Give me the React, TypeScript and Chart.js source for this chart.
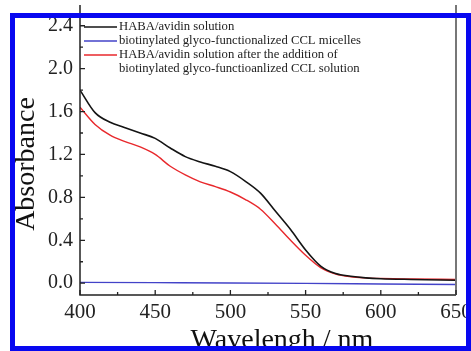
import React, { useEffect, useRef } from "react";
import { Chart, registerables } from "chart.js";

Chart.register(...registerables);

const wavelengths = [400, 410, 420, 430, 440, 450, 460, 470, 480, 490, 500, 510, 520, 530, 540, 550, 560, 570, 580, 590, 600, 620, 650];
const habaAvidin = [1.8, 1.59, 1.5, 1.45, 1.4, 1.35, 1.26, 1.18, 1.13, 1.09, 1.04, 0.95, 0.84, 0.67, 0.5, 0.31, 0.16, 0.09, 0.065, 0.05, 0.042, 0.035, 0.028];
const habaAfter = [1.64, 1.48, 1.38, 1.32, 1.27, 1.2, 1.09, 1.01, 0.945, 0.9, 0.85, 0.78, 0.69, 0.55, 0.4, 0.26, 0.145, 0.085, 0.06, 0.05, 0.045, 0.04, 0.035];
const micelleWavelengths = [400, 450, 500, 550, 600, 650];
const micelles = [0.008, 0.005, 0.002, -0.002, -0.007, -0.012];

const seriesLabels = [
  ["HABA/avidin solution"],
  ["biotinylated glyco-functionalized CCL micelles"],
  ["HABA/avidin solution after the addition of", "biotinylated glyco-functioanlized CCL solution"],
];
const seriesColors = ["#141414", "#4343c8", "#e8282c"];

const xMajorTicks = [400, 450, 500, 550, 600, 650];
const xMinorTicks = [425, 475, 525, 575, 625];
const yMajorTicks = [0, 0.4, 0.8, 1.2, 1.6, 2.0, 2.4];
const yMinorTicks = [0.2, 0.6, 1.0, 1.4, 1.8, 2.2];

const xTitle = "Wavelengh / nm";
const yTitle = "Absorbance";

const FONT = "'Liberation Serif', 'Times New Roman', serif";

const decor = {
  id: "decor",
  afterDraw(chart: any) {
    const { ctx, chartArea: a, scales } = chart;
    const xs = scales.x;
    const ys = scales.y;
    ctx.save();
    ctx.strokeStyle = "#222";
    ctx.lineWidth = 1.5;
    ctx.beginPath();
    ctx.moveTo(a.left, a.top - 10);
    ctx.lineTo(a.left, a.bottom);
    ctx.lineTo(a.right, a.bottom);
    ctx.stroke();
    ctx.strokeStyle = "#777";
    ctx.lineWidth = 2;
    ctx.beginPath();
    ctx.moveTo(a.right, a.top - 10);
    ctx.lineTo(a.right, a.bottom);
    ctx.stroke();
    ctx.strokeStyle = "#222";
    ctx.lineWidth = 1.3;
    ctx.beginPath();
    xMajorTicks.forEach((v) => {
      const px = xs.getPixelForValue(v);
      ctx.moveTo(px, a.bottom);
      ctx.lineTo(px, a.bottom - 5);
    });
    xMinorTicks.forEach((v) => {
      const px = xs.getPixelForValue(v);
      ctx.moveTo(px, a.bottom);
      ctx.lineTo(px, a.bottom - 3);
    });
    yMajorTicks.forEach((v) => {
      const py = ys.getPixelForValue(v);
      ctx.moveTo(a.left, py);
      ctx.lineTo(a.left + 5, py);
    });
    yMinorTicks.forEach((v) => {
      const py = ys.getPixelForValue(v);
      ctx.moveTo(a.left, py);
      ctx.lineTo(a.left + 3, py);
    });
    ctx.stroke();
    ctx.font = `12.7px ${FONT}`;
    ctx.textBaseline = "middle";
    ctx.textAlign = "left";
    let row = 0;
    seriesLabels.forEach((lines, i) => {
      const ly = a.top + 12 + row * 14;
      ctx.strokeStyle = seriesColors[i];
      ctx.lineWidth = 1.5;
      ctx.beginPath();
      ctx.moveTo(a.left + 4, ly);
      ctx.lineTo(a.left + 37, ly);
      ctx.stroke();
      ctx.fillStyle = "#222";
      lines.forEach((t) => {
        ctx.fillText(t, a.left + 39, a.top + 12 + row * 14);
        row++;
      });
    });
    ctx.fillStyle = "#111";
    ctx.font = `28px ${FONT}`;
    ctx.textAlign = "center";
    ctx.textBaseline = "alphabetic";
    ctx.fillText(xTitle, 282, 347.5);
    ctx.save();
    ctx.translate(34, 164);
    ctx.rotate(-Math.PI / 2);
    ctx.fillText(yTitle, 0, 0);
    ctx.restore();
    ctx.restore();
  },
};

export default function App() {
  const ref = useRef<HTMLCanvasElement>(null);
  useEffect(() => {
    if (!ref.current) return;
    const chart = new Chart(ref.current, {
      type: "line",
      data: {
        datasets: [
          {
            label: seriesLabels[0].join(" "),
            data: wavelengths.map((w, i) => ({ x: w, y: habaAvidin[i] })),
            borderColor: seriesColors[0],
            borderWidth: 1.6,
            pointRadius: 0,
            cubicInterpolationMode: "monotone",
          },
          {
            label: seriesLabels[1].join(" "),
            data: micelleWavelengths.map((w, i) => ({ x: w, y: micelles[i] })),
            borderColor: seriesColors[1],
            borderWidth: 1.4,
            pointRadius: 0,
            cubicInterpolationMode: "monotone",
          },
          {
            label: seriesLabels[2].join(" "),
            data: wavelengths.map((w, i) => ({ x: w, y: habaAfter[i] })),
            borderColor: seriesColors[2],
            borderWidth: 1.4,
            pointRadius: 0,
            cubicInterpolationMode: "monotone",
          },
        ],
      },
      options: {
        animation: false,
        responsive: false,
        layout: { padding: { top: 15, right: 15, left: 0, bottom: 0 } },
        plugins: { legend: { display: false }, tooltip: { enabled: false } },
        scales: {
          x: {
            type: "linear",
            min: 400,
            max: 650,
            grid: { display: false, drawTicks: false },
            border: { display: false },
            afterBuildTicks: (s: any) => {
              s.ticks = xMajorTicks.map((v) => ({ value: v }));
            },
            afterFit: (s: any) => {
              s.height = 56;
              s.paddingLeft = 0;
              s.paddingRight = 0;
            },
            ticks: {
              padding: 5,
              color: "#222",
              font: { family: FONT, size: 21 },
              maxRotation: 0,
              callback: (v: any) => String(v),
            },
          },
          y: {
            type: "linear",
            min: -0.11,
            max: 2.5,
            grid: { display: false, drawTicks: false },
            border: { display: false },
            afterBuildTicks: (s: any) => {
              s.ticks = yMajorTicks.map((v) => ({ value: v }));
            },
            afterFit: (s: any) => {
              s.width = 80;
              s.paddingTop = 0;
              s.paddingBottom = 0;
            },
            ticks: {
              padding: 7,
              color: "#222",
              font: { family: FONT, size: 20 },
              callback: (v: any) => Number(v).toFixed(1),
            },
          },
        },
      },
      plugins: [decor],
    });
    return () => chart.destroy();
  }, []);
  return (
    <div style={{ position: "fixed", left: 0, top: 0, width: 471, height: 351, background: "#fff", overflow: "hidden" }}>
      <canvas ref={ref} width={471} height={351} style={{ display: "block", width: 471, height: 351 }} />
      <div
        style={{
          position: "absolute",
          left: 10,
          top: 13,
          width: 461,
          height: 338,
          border: "5px solid #0808f0",
          boxSizing: "border-box",
          pointerEvents: "none",
        }}
      />
    </div>
  );
}
